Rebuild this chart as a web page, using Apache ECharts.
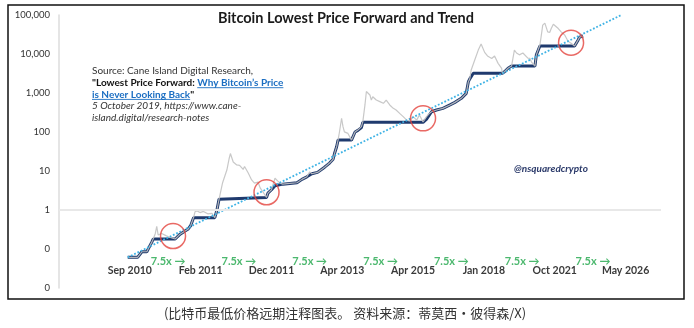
<!DOCTYPE html>
<html>
<head>
<meta charset="utf-8">
<script src="https://cdn.jsdelivr.net/npm/echarts@6/dist/echarts.min.js"></script>
<style>
  html, body { margin: 0; padding: 0; background: #fff; }
  #chart { width: 694px; height: 328px; }
</style>
</head>
<body>
<div id="chart"></div>
<script>
// Dates at each 7.5x step of the trend (x axis runs in step units: 0 = Sep 2010)
const stepDates = ['Sep 2010', 'Feb 2011', 'Dec 2011', 'Apr 2013', 'Apr 2015', 'Jan 2018', 'Oct 2021', 'May 2026'];
const stepMultiple = '7.5x \u2192';

// Bitcoin price: [step position, USD]
const price = [
  [-0.03, 0.061], [0.11, 0.061], [0.17, 0.085], [0.24, 0.085], [0.31, 0.15], [0.33, 0.18],
  [0.36, 0.25], [0.38, 0.38], [0.40, 0.23], [0.45, 0.25], [0.51, 0.22], [0.56, 0.20],
  [0.64, 0.18], [0.71, 0.24], [0.78, 0.29], [0.82, 0.32], [0.86, 0.40], [0.90, 0.64],
  [0.92, 0.90], [0.95, 0.95], [0.99, 0.86], [1.04, 0.92], [1.10, 0.80], [1.16, 0.82],
  [1.20, 0.635], [1.23, 1.0], [1.26, 1.9], [1.27, 2.1], [1.31, 5.0], [1.37, 10.6],
  [1.40, 20], [1.42, 28], [1.44, 25], [1.46, 17], [1.48, 19], [1.51, 14.3], [1.55, 14],
  [1.60, 11], [1.62, 13], [1.67, 9], [1.72, 5.9], [1.76, 4.9], [1.81, 5.2], [1.84, 3.7],
  [1.88, 2.9], [1.91, 2.4], [1.93, 2.1], [1.95, 2.7], [2.00, 3.3], [2.05, 6.5], [2.09, 5.5],
  [2.13, 4.8], [2.16, 4.6], [2.26, 4.8], [2.36, 5.0], [2.43, 6.1], [2.50, 7.1], [2.54, 9.5],
  [2.57, 8.5], [2.65, 9.2], [2.75, 12.5], [2.82, 16], [2.87, 20], [2.89, 28], [2.92, 42],
  [2.94, 62], [2.96, 100], [2.99, 225], [3.01, 137], [3.03, 101], [3.08, 92], [3.13, 62],
  [3.18, 100], [3.22, 112], [3.27, 137], [3.29, 184], [3.32, 494], [3.34, 1090], [3.36, 1200],
  [3.39, 890], [3.41, 660], [3.43, 800], [3.48, 660], [3.53, 600], [3.58, 545], [3.62, 660],
  [3.67, 494], [3.72, 404], [3.76, 366], [3.81, 300], [3.86, 248], [3.91, 202], [3.95, 191],
  [4.00, 248], [4.05, 202], [4.09, 272], [4.14, 180], [4.19, 248], [4.23, 300], [4.26, 330],
  [4.33, 366], [4.42, 404], [4.52, 494], [4.59, 575], [4.68, 730], [4.75, 980], [4.78, 1950],
  [4.80, 2300], [4.82, 3900], [4.87, 7000], [4.92, 12600], [4.96, 18000], [5.01, 11000],
  [5.05, 8900], [5.11, 7700], [5.15, 8900], [5.20, 5750], [5.25, 4300], [5.26, 3200],
  [5.29, 3500], [5.34, 4300], [5.39, 4900], [5.41, 7800], [5.43, 12600], [5.46, 10600],
  [5.50, 9500], [5.55, 10600], [5.57, 9500], [5.62, 7800], [5.65, 7700], [5.67, 6300],
  [5.72, 4900], [5.74, 9500], [5.79, 17000], [5.81, 30000], [5.83, 55000], [5.86, 62000],
  [5.90, 37000], [5.93, 36000], [5.95, 45000], [5.98, 58000], [6.00, 65000], [6.05, 45000],
  [6.09, 37000], [6.14, 30800], [6.19, 20900], [6.23, 18900], [6.28, 16000], [6.33, 23000],
  [6.35, 27000], [6.40, 29000]
];

// Lowest price forward: [step position, USD]
const lowestForward = [
  [-0.03, 0.061], [0.11, 0.061], [0.17, 0.085], [0.24, 0.085], [0.31, 0.15], [0.33, 0.18],
  [0.64, 0.18], [0.71, 0.24], [0.78, 0.29], [0.82, 0.32], [0.86, 0.40], [0.90, 0.635],
  [1.20, 0.635], [1.23, 1.0], [1.26, 1.9], [1.27, 2.1], [1.93, 2.1], [1.95, 2.7], [2.00, 3.3],
  [2.05, 4.2], [2.07, 4.4], [2.16, 4.6], [2.26, 4.8], [2.36, 5.0], [2.43, 6.1], [2.50, 7.1],
  [2.57, 8.5], [2.65, 9.2], [2.75, 12.5], [2.82, 16], [2.87, 20], [2.89, 28], [2.92, 42],
  [2.94, 62], [3.13, 62], [3.18, 100], [3.22, 110], [3.27, 130], [3.29, 177], [4.14, 177],
  [4.19, 215], [4.26, 330], [4.33, 366], [4.42, 404], [4.52, 494], [4.59, 575], [4.68, 730],
  [4.75, 980], [4.78, 1950], [4.80, 2300], [4.85, 3200], [5.26, 3200], [5.29, 3500],
  [5.34, 4300], [5.39, 4900], [5.72, 4900], [5.74, 9500], [5.79, 16000], [6.28, 16000],
  [6.33, 23000], [6.35, 27000], [6.40, 29000]
];

// Trend line end points
const trend = [[-0.03, 0.061], [6.94, 100000]];

// Points where price touched the trend
const touchPoints = [[0.61, 0.215], [1.93, 2.85], [4.14, 224], [6.23, 19500]];

const chart = echarts.init(document.getElementById('chart'), null, { renderer: 'canvas' });

const FONT = 'Lato, "Open Sans", "Noto Sans", sans-serif';
const measureCtx = document.createElement('canvas').getContext('2d');
function textWidth(str, font) { measureCtx.font = font; return measureCtx.measureText(str).width; }

// Source note, built segment by segment so links can be underlined
const LINK = '#1b6ec2';
const noteLines = [
  [{ t: 'Source: Cane Island Digital Research,', w: 'normal', s: 'normal', c: '#333' }],
  [{ t: '"Lowest Price Forward: ', w: 'bold', s: 'normal', c: '#111' },
   { t: 'Why Bitcoin\u2019s Price', w: 'bold', s: 'normal', c: LINK, u: true }],
  [{ t: 'is Never Looking Back', w: 'bold', s: 'normal', c: LINK, u: true },
   { t: '"', w: 'bold', s: 'normal', c: '#111' }],
  [{ t: '5 October 2019, https://www.cane-', w: 'normal', s: 'italic', c: '#333' }],
  [{ t: 'island.digital/research-notes', w: 'normal', s: 'italic', c: '#333' }]
];
const noteSize = 10;
const noteLeft = 92, noteTop = 71, noteLead = 11.7;
const noteGraphics = [];
noteLines.forEach((line, i) => {
  let x = noteLeft;
  const y = noteTop + i * noteLead;
  line.forEach(seg => {
    const font = `${seg.s} ${seg.w} ${noteSize}px ${FONT}`;
    const w = textWidth(seg.t, font);
    noteGraphics.push({
      type: 'text', x: x, y: y,
      style: { text: seg.t, font: font, fill: seg.c, textAlign: 'left', textVerticalAlign: 'middle' }
    });
    if (seg.u) {
      noteGraphics.push({
        type: 'line', shape: { x1: x, y1: y + 5, x2: x + w, y2: y + 5 },
        style: { stroke: seg.c, lineWidth: 0.9 }
      });
    }
    x += w;
  });
});

chart.setOption({
  backgroundColor: '#fff',
  animation: false,
  grid: { left: 59, right: 33, top: 15, bottom: 40 },
  xAxis: {
    type: 'value', min: -1, max: 7.5, interval: 1,
    offset: -23,
    axisLine: { show: false }, axisTick: { show: false }, splitLine: { show: false },
    axisLabel: {
      margin: 0, showMaxLabel: false,
      color: '#3a3a3a', fontFamily: FONT, fontSize: 10.5, fontWeight: 'bold',
      formatter: v => (Number.isInteger(v) && v >= 0 && v < stepDates.length) ? stepDates[v] : ''
    }
  },
  yAxis: {
    type: 'log', logBase: 10, min: 0.01, max: 100000,
    axisLine: { show: true, onZero: false, lineStyle: { color: '#dcdcdc', width: 1.5 } },
    axisTick: { show: false }, splitLine: { show: false },
    axisLabel: {
      margin: 9, color: '#333', fontFamily: FONT, fontSize: 9.5,
      formatter: v => Math.round(v).toLocaleString('en-US')
    }
  },
  series: [
    {
      // reference line at $1
      type: 'line', data: [], z: 1,
      markLine: {
        silent: true, symbol: 'none', label: { show: false },
        lineStyle: { color: '#e8e8e8', width: 2, type: 'solid' },
        data: [{ yAxis: 1 }]
      }
    },
    {
      name: 'Lowest Price Forward', type: 'line', data: lowestForward,
      showSymbol: false, z: 2,
      lineStyle: { color: '#1f3a6e', width: 3 }
    },
    {
      name: 'Price', type: 'line', data: price,
      showSymbol: false, z: 3,
      lineStyle: { color: '#c2c2c2', width: 1.2, opacity: 0.9 }
    },
    {
      name: 'Trend', type: 'line', data: trend,
      showSymbol: false, z: 4,
      lineStyle: { color: '#3fb3e5', width: 1.8, type: 'dotted' }
    },
    {
      name: 'Touch', type: 'scatter', data: touchPoints, z: 5,
      symbol: 'circle', symbolSize: 25,
      itemStyle: { color: 'rgba(0,0,0,0)', borderColor: '#e3443d', borderWidth: 1.5 }
    },
    {
      name: 'Multiple', type: 'scatter', z: 5, symbolSize: 0,
      data: stepDates.slice(1).map((d, i) => [i + 0.54, 0.047]),
      label: {
        show: true, position: 'inside', formatter: () => stepMultiple,
        color: '#1fa64a', fontFamily: FONT, fontSize: 11, fontWeight: 'bold'
      }
    }
  ],
  graphic: [
    {
      type: 'rect', shape: { x: 8, y: 5, width: 676, height: 294 },
      style: { fill: 'none', stroke: '#111', lineWidth: 1.5 }, z: -1
    },
    {
      type: 'text', x: 346, y: 18,
      style: { text: 'Bitcoin Lowest Price Forward and Trend', font: `bold 14.5px ${FONT}`,
               fill: '#1a1a1a', textAlign: 'center', textVerticalAlign: 'middle' }
    },
    {
      type: 'text', x: 551, y: 169,
      style: { text: '@nsquaredcrypto', font: `italic bold 10px ${FONT}`,
               fill: '#2b3a6a', textAlign: 'center', textVerticalAlign: 'middle' }
    },
    {
      type: 'text', x: 345, y: 313,
      style: { text: '(比特币最低价格远期注释图表。 资料来源：蒂莫西·彼得森/X)',
               font: '13px "Noto Sans CJK SC", sans-serif',
               fill: '#333', textAlign: 'center', textVerticalAlign: 'middle' }
    }
  ].concat(noteGraphics)
});
</script>
</body>
</html>
